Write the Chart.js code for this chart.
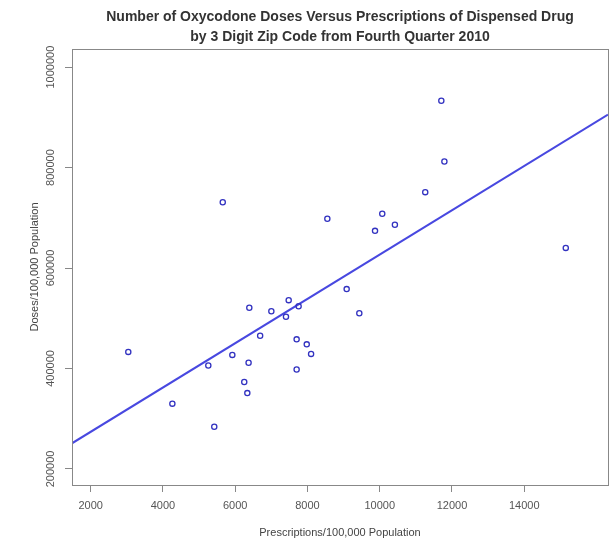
<!DOCTYPE html>
<html>
<head>
<meta charset="utf-8">
<script src="https://cdn.jsdelivr.net/npm/chart.js@4.4.1/dist/chart.umd.min.js"></script>
<style>
  html, body { margin: 0; padding: 0; background: #fff; }
  #wrap { width: 613px; height: 550px; }
</style>
</head>
<body>
<div id="wrap"><canvas id="scatterChart"></canvas></div>
<script>
// prescriptions / 100,000 population by 3 digit zip
var prescriptions = [3040, 4260, 5420, 5255, 5920, 6250, 6370, 6335, 6390, 6690,
                     7000, 5655, 7405, 7480, 7755, 7700, 7980, 8100, 7700, 9085,
                     9435, 8550, 9870, 10070, 10420, 11260, 11705, 11790, 15150];
// doses / 100,000 population
var doses = [433000, 330000, 284000, 406000, 427000, 373000, 411500, 351000, 521000, 465000,
             514000, 731000, 503000, 536000, 524000, 458000, 448000, 429000, 398000, 558000,
             510000, 698000, 674000, 708000, 686000, 751000, 933000, 812000, 640000];

var xTicks = [2000, 4000, 6000, 8000, 10000, 12000, 14000];
var yTicks = [200000, 400000, 600000, 800000, 1000000];

// fitted line
var fitIntercept = 185700;
var fitSlope = 44.1;

var xMin = 1482, xMax = 16319;
var yMin = 168000, yMax = 1036000;

var fontFam = '"Liberation Sans", Arial, Helvetica, sans-serif';

var points = prescriptions.map(function(x, i){ return {x: x, y: doses[i]}; });
var fitLine = [xMin, xMax].map(function(x){ return {x: x, y: fitIntercept + fitSlope * x}; });

// draw the plot box and the vertical y tick labels like R does
var frameAndLabels = {
    id: 'frameAndLabels',
    afterDraw: function(chart){
        var ctx = chart.ctx, a = chart.chartArea;
        ctx.save();
        ctx.strokeStyle = '#888';
        ctx.lineWidth = 1;
        ctx.strokeRect(Math.round(a.left) + 0.5, Math.round(a.top) + 0.5,
                       Math.round(a.right - a.left), Math.round(a.bottom - a.top));
        var ys = chart.scales.y;
        ctx.fillStyle = '#555';
        ctx.font = '11px ' + fontFam;
        ctx.textAlign = 'center';
        ctx.textBaseline = 'middle';
        ys.ticks.forEach(function(t){
            var py = ys.getPixelForValue(t.value);
            ctx.save();
            ctx.translate(51, py);
            ctx.rotate(-Math.PI / 2);
            ctx.fillText(String(t.value), 0, 0);
            ctx.restore();
        });
        ctx.restore();
    }
};

var ctx = document.getElementById('scatterChart').getContext('2d');
var chart = new Chart(ctx, {
    type: 'scatter',
    data: {
        datasets: [{
            label: 'Zip codes',
            data: points,
            borderColor: '#3232c0',
            backgroundColor: 'rgba(0,0,0,0)',
            borderWidth: 1.3,
            pointRadius: 2.6,
            pointHoverRadius: 2.6,
            showLine: false
        }, {
            label: 'Fit',
            data: fitLine,
            borderColor: '#4848e0',
            borderWidth: 2,
            pointRadius: 0,
            showLine: true,
            fill: false
        }]
    },
    options: {
        responsive: true,
        maintainAspectRatio: false,
        animation: false,
        layout: { padding: { left: 0, right: 5, top: 0, bottom: 0 } },
        plugins: {
            legend: { display: false },
            tooltip: { enabled: false },
            title: {
                display: true,
                fullSize: false,
                text: ['Number of Oxycodone Doses Versus Prescriptions of Dispensed Drug',
                       'by 3 Digit Zip Code from Fourth Quarter 2010'],
                color: '#333',
                font: { family: fontFam, size: 14, weight: 'bold', lineHeight: 1.45 },
                padding: { top: 7, bottom: 1.4 }
            }
        },
        scales: {
            x: {
                type: 'linear',
                min: xMin,
                max: xMax,
                afterBuildTicks: function(scale){
                    scale.ticks = xTicks.map(function(v){ return {value: v}; });
                },
                afterFit: function(scale){ scale.height = 65; },
                border: { display: false },
                grid: { display: true, drawOnChartArea: false, drawTicks: true, tickLength: 7, color: '#888' },
                ticks: {
                    color: '#555',
                    padding: 7,
                    maxRotation: 0,
                    font: { family: fontFam, size: 11 },
                    callback: function(v){ return String(v); }
                },
                title: {
                    display: true,
                    text: 'Prescriptions/100,000 Population',
                    color: '#444',
                    font: { family: fontFam, size: 11 },
                    padding: { top: 0, bottom: 10 }
                }
            },
            y: {
                type: 'linear',
                min: yMin,
                max: yMax,
                afterBuildTicks: function(scale){
                    scale.ticks = yTicks.map(function(v){ return {value: v}; });
                },
                afterFit: function(scale){ scale.width = 72; },
                border: { display: false },
                grid: { display: true, drawOnChartArea: false, drawTicks: true, tickLength: 7, color: '#888' },
                ticks: { display: false },
                title: {
                    display: true,
                    text: 'Doses/100,000 Population',
                    color: '#444',
                    font: { family: fontFam, size: 11 },
                    padding: { top: 28, bottom: 0 }
                }
            }
        }
    },
    plugins: [frameAndLabels]
});
</script>
</body>
</html>
